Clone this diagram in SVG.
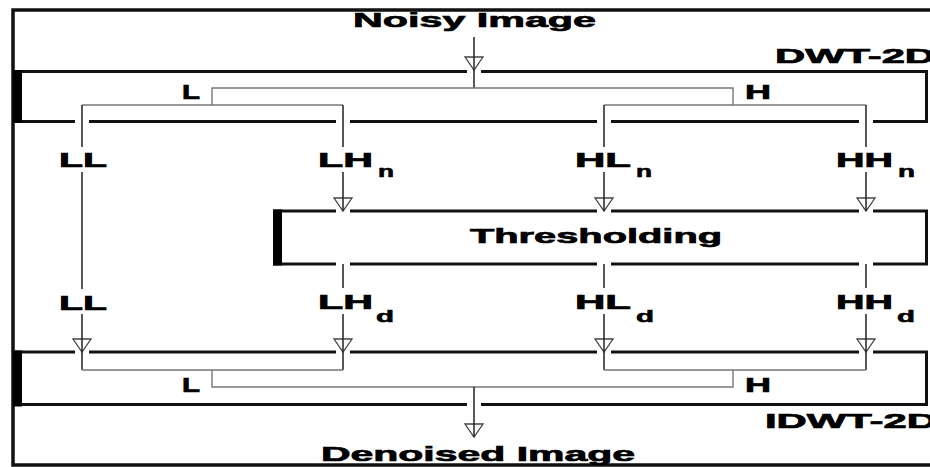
<svg xmlns="http://www.w3.org/2000/svg" xmlns:xlink="http://www.w3.org/1999/xlink" width="930" height="467" viewBox="0 0 930 467">
<style>
.box{fill:none;stroke:#111;stroke-width:3}
.edge{fill:#000}
.t{font-family:"Liberation Sans",Arial,sans-serif;font-weight:bold;font-size:21px;fill:#000;stroke:#000;stroke-width:0.7}
.s{font-family:"Liberation Sans",Arial,sans-serif;font-weight:bold;font-size:17px;fill:#000;stroke:#000;stroke-width:0.6}
.ln{fill:none;stroke:#222;stroke-width:1.5}
.sp{fill:none;stroke:#777;stroke-width:1.4}
.gap{stroke:#fff;stroke-width:13}
.ah{fill:#fff;stroke:#444;stroke-width:1.3}
</style>
<defs>
<path id="ah" class="ah" d="M-9,0 L9,0 L0,13 Z"/>
</defs>
<rect width="930" height="467" fill="#fff"/>
<rect id="frame" x="13" y="10" width="940" height="455" fill="none" stroke="#111" stroke-width="3.5"/>

<g id="dwt">
<rect class="box" x="14.5" y="71.5" width="912" height="50"/>
<rect class="edge" x="13" y="70" width="9" height="53"/>
<text class="t" x="775" y="63" textLength="160" lengthAdjust="spacingAndGlyphs">DWT-2D</text>
</g>
<g id="thresholding">
<rect class="box" x="274.5" y="211" width="652" height="53"/>
<rect class="edge" x="273" y="209.5" width="9" height="56"/>
<text class="t" x="470" y="243" textLength="252" lengthAdjust="spacingAndGlyphs">Thresholding</text>
</g>
<g id="idwt">
<rect class="box" x="14.5" y="352" width="912" height="52.5"/>
<rect class="edge" x="13" y="350.5" width="9" height="56"/>
<text class="t" x="765" y="428" textLength="172" lengthAdjust="spacingAndGlyphs">IDWT-2D</text>
</g>
<g id="noisy">
<text class="t" x="353" y="27" font-size="20" textLength="243" lengthAdjust="spacingAndGlyphs">Noisy Image</text>
</g>
<g id="denoised">
<text class="t" x="321" y="461" textLength="314" lengthAdjust="spacingAndGlyphs">Denoised Image</text>
</g>

<g id="gaps">
<line class="gap" x1="467" y1="71.5" x2="481" y2="71.5"/>
<line class="gap" x1="75" y1="121.5" x2="89" y2="121.5"/>
<line class="gap" x1="336" y1="121.5" x2="350" y2="121.5"/>
<line class="gap" x1="597" y1="121.5" x2="611" y2="121.5"/>
<line class="gap" x1="859" y1="121.5" x2="873" y2="121.5"/>
<line class="gap" x1="336" y1="211" x2="350" y2="211"/>
<line class="gap" x1="597" y1="211" x2="611" y2="211"/>
<line class="gap" x1="859" y1="211" x2="873" y2="211"/>
<line class="gap" x1="336" y1="264" x2="350" y2="264"/>
<line class="gap" x1="597" y1="264" x2="611" y2="264"/>
<line class="gap" x1="859" y1="264" x2="873" y2="264"/>
<line class="gap" x1="75" y1="352" x2="89" y2="352"/>
<line class="gap" x1="336" y1="352" x2="350" y2="352"/>
<line class="gap" x1="597" y1="352" x2="611" y2="352"/>
<line class="gap" x1="859" y1="352" x2="873" y2="352"/>
<line class="gap" x1="467" y1="404.5" x2="481" y2="404.5"/>
</g>

<g id="connectors">
<use href="#ah" x="474" y="57"/>
<use href="#ah" x="343" y="198"/>
<use href="#ah" x="604" y="198"/>
<use href="#ah" x="866" y="198"/>
<use href="#ah" x="82" y="339"/>
<use href="#ah" x="343" y="339"/>
<use href="#ah" x="604" y="339"/>
<use href="#ah" x="866" y="339"/>
<use href="#ah" x="474" y="424"/>
<path class="ln" d="M474,37 V88"/>
<path class="sp" d="M212,105 V88 H733 V105"/>
<path class="sp" d="M82,105 H343 M604,105 H866"/>
<path class="ln" d="M82,105 V147 M343,105 V147 M604,105 V147 M866,105 V147"/>
<path class="ln" d="M82,172 V289 M343,172 V211 M604,172 V211 M866,172 V211"/>
<path class="ln" d="M343,264 V288 M604,264 V288 M866,264 V288"/>
<path class="ln" d="M82,314 V370 M343,314 V370 M604,314 V370 M866,314 V370"/>
<path class="sp" d="M82,370 H343 M604,370 H866"/>
<path class="sp" d="M212,370 V387 H733 V370"/>
<path class="ln" d="M474,387 V437"/>
</g>

<g id="labels">
<text class="t" x="182" y="99" textLength="18" lengthAdjust="spacingAndGlyphs">L</text>
<text class="t" x="745" y="99" textLength="26" lengthAdjust="spacingAndGlyphs">H</text>
<text class="t" x="182" y="392" textLength="18" lengthAdjust="spacingAndGlyphs">L</text>
<text class="t" x="745" y="392" textLength="26" lengthAdjust="spacingAndGlyphs">H</text>
<text class="t" x="59" y="167" textLength="48" lengthAdjust="spacingAndGlyphs">LL</text>
<text class="t" x="318" y="167" textLength="55" lengthAdjust="spacingAndGlyphs">LH</text>
<text class="s" x="378" y="177" textLength="16" lengthAdjust="spacingAndGlyphs">n</text>
<text class="t" x="575" y="167" textLength="56" lengthAdjust="spacingAndGlyphs">HL</text>
<text class="s" x="636" y="177" textLength="16" lengthAdjust="spacingAndGlyphs">n</text>
<text class="t" x="836" y="167" textLength="57" lengthAdjust="spacingAndGlyphs">HH</text>
<text class="s" x="898" y="177" textLength="17" lengthAdjust="spacingAndGlyphs">n</text>
<text class="t" x="59" y="310" textLength="48" lengthAdjust="spacingAndGlyphs">LL</text>
<text class="t" x="318" y="309" textLength="55" lengthAdjust="spacingAndGlyphs">LH</text>
<text class="s" x="376" y="322" textLength="18" lengthAdjust="spacingAndGlyphs">d</text>
<text class="t" x="575" y="309" textLength="56" lengthAdjust="spacingAndGlyphs">HL</text>
<text class="s" x="636" y="322" textLength="18" lengthAdjust="spacingAndGlyphs">d</text>
<text class="t" x="836" y="309" textLength="57" lengthAdjust="spacingAndGlyphs">HH</text>
<text class="s" x="897" y="322" textLength="18" lengthAdjust="spacingAndGlyphs">d</text>
</g>
</svg>
